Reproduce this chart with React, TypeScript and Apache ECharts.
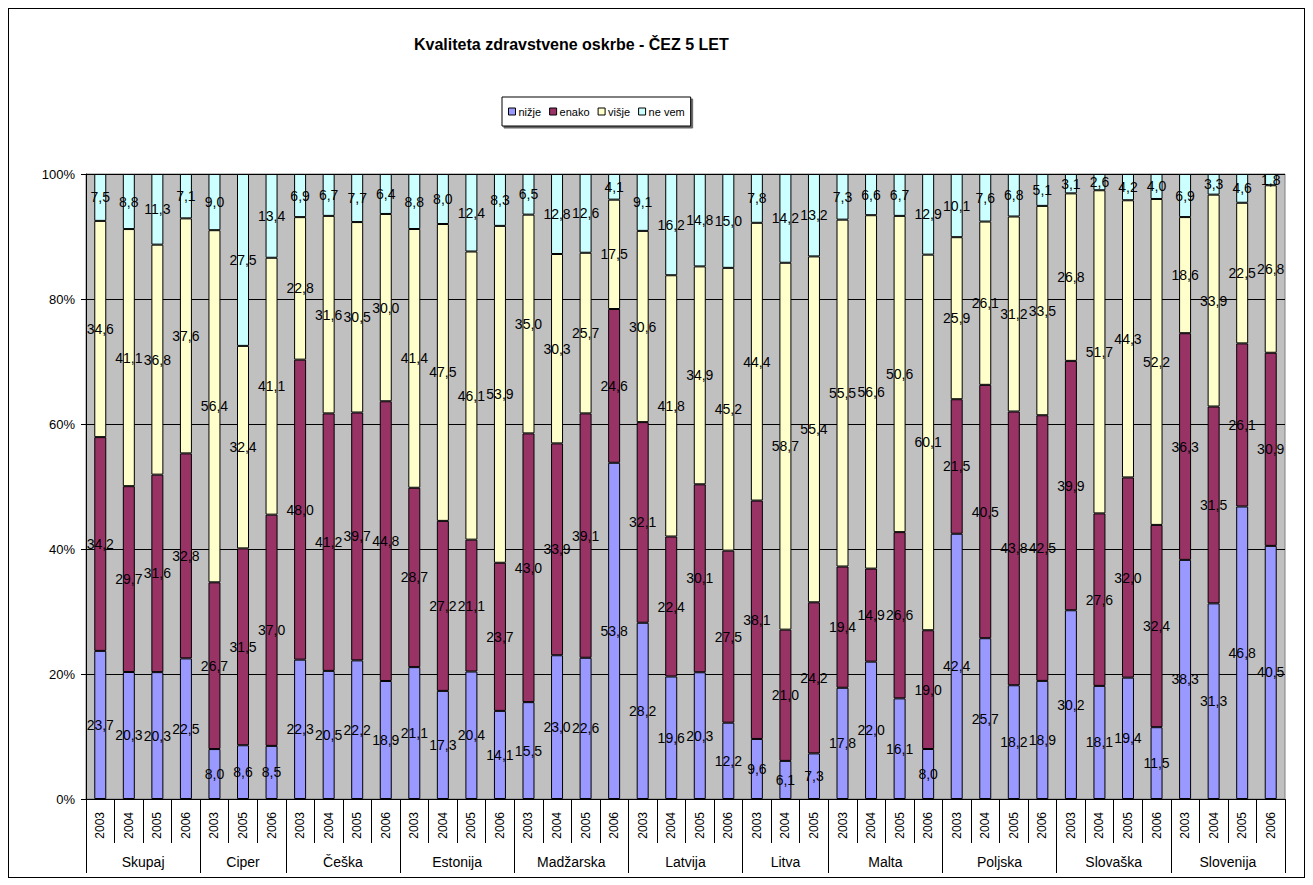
import React, { useEffect, useRef } from 'react';
import * as echarts from 'echarts';

const groupNames = ['Skupaj', 'Ciper', 'Češka', 'Estonija', 'Madžarska', 'Latvija', 'Litva', 'Malta', 'Poljska', 'Slovaška', 'Slovenija'];
const groupSizes = [4, 3, 4, 4, 4, 4, 3, 4, 4, 4, 4];
const years = [
  '2003', '2004', '2005', '2006',
  '2003', '2005', '2006',
  '2003', '2004', '2005', '2006',
  '2003', '2004', '2005', '2006',
  '2003', '2004', '2005', '2006',
  '2003', '2004', '2005', '2006',
  '2003', '2004', '2005',
  '2003', '2004', '2005', '2006',
  '2003', '2004', '2005', '2006',
  '2003', '2004', '2005', '2006',
  '2003', '2004', '2005', '2006',
];

const seriesNames = ['nižje', 'enako', 'višje', 'ne vem'];
const seriesColors = ['#9999FF', '#993366', '#FFFFCC', '#CCFFFF'];

const nizje = [
  23.7, 20.3, 20.3, 22.5,
  8.0, 8.6, 8.5,
  22.3, 20.5, 22.2, 18.9,
  21.1, 17.3, 20.4, 14.1,
  15.5, 23.0, 22.6, 53.8,
  28.2, 19.6, 20.3, 12.2,
  9.6, 6.1, 7.3,
  17.8, 22.0, 16.1, 8.0,
  42.4, 25.7, 18.2, 18.9,
  30.2, 18.1, 19.4, 11.5,
  38.3, 31.3, 46.8, 40.5,
];
const enako = [
  34.2, 29.7, 31.6, 32.8,
  26.7, 31.5, 37.0,
  48.0, 41.2, 39.7, 44.8,
  28.7, 27.2, 21.1, 23.7,
  43.0, 33.9, 39.1, 24.6,
  32.1, 22.4, 30.1, 27.5,
  38.1, 21.0, 24.2,
  19.4, 14.9, 26.6, 19.0,
  21.5, 40.5, 43.8, 42.5,
  39.9, 27.6, 32.0, 32.4,
  36.3, 31.5, 26.1, 30.9,
];
const visje = [
  34.6, 41.1, 36.8, 37.6,
  56.4, 32.4, 41.1,
  22.8, 31.6, 30.5, 30.0,
  41.4, 47.5, 46.1, 53.9,
  35.0, 30.3, 25.7, 17.5,
  30.6, 41.8, 34.9, 45.2,
  44.4, 58.7, 55.4,
  55.5, 56.6, 50.6, 60.1,
  25.9, 26.1, 31.2, 33.5,
  26.8, 51.7, 44.3, 52.2,
  18.6, 33.9, 22.5, 26.8,
];
const neVem = [
  7.5, 8.8, 11.3, 7.1,
  9.0, 27.5, 13.4,
  6.9, 6.7, 7.7, 6.4,
  8.8, 8.0, 12.4, 8.3,
  6.5, 12.8, 12.6, 4.1,
  9.1, 16.2, 14.8, 15.0,
  7.8, 14.2, 13.2,
  7.3, 6.6, 6.7, 12.9,
  10.1, 7.6, 6.8, 5.1,
  3.1, 2.6, 4.2, 4.0,
  6.9, 3.3, 4.6, 1.8,
];

const yTicks = [0, 20, 40, 60, 80, 100];

export default function App() {
  const ref = useRef<HTMLDivElement>(null);

  useEffect(() => {
    if (!ref.current) return;
    const chart = echarts.init(ref.current, undefined, { renderer: 'svg' });

    const seriesData = [nizje, enako, visje, neVem];
    const totals = years.map((_, i) => seriesData.reduce((s, arr) => s + arr[i], 0));

    // second (group) axis: points at every half-band
    const nPts = years.length * 2 + 1;
    const groupAxisData: string[] = new Array(nPts).fill('');
    const boundarySet = new Set<number>();
    let cum = 0;
    boundarySet.add(0);
    groupSizes.forEach((sz, g) => {
      groupAxisData[cum * 2 + sz] = groupNames[g];
      cum += sz;
      boundarySet.add(cum * 2);
    });

    const option: any = {
      animation: false,
      textStyle: { fontFamily: 'Arial, "Liberation Sans", sans-serif', color: '#000' },
      title: {
        text: 'Kvaliteta zdravstvene oskrbe - ČEZ 5 LET',
        left: 400,
        top: 22,
        textStyle: { fontSize: 16, fontWeight: 'bold', color: '#000', fontFamily: 'Arial, "Liberation Sans", sans-serif' },
      },
      legend: {
        data: seriesNames,
        left: 493,
        top: 88,
        orient: 'horizontal',
        icon: 'rect',
        itemWidth: 7,
        itemHeight: 7,
        itemGap: 8,
        padding: [9, 6],
        borderColor: '#000',
        borderWidth: 1,
        backgroundColor: '#fff',
        shadowColor: 'rgba(0,0,0,0.6)',
        shadowOffsetX: 2,
        shadowOffsetY: 2,
        shadowBlur: 0,
        itemStyle: { borderColor: '#000', borderWidth: 1 },
        textStyle: { fontSize: 11, color: '#000', padding: [0, 0, 0, -2] },
      },
      grid: {
        left: 77,
        right: 19,
        top: 165,
        bottom: 78,
        show: true,
        backgroundColor: '#C0C0C0',
        borderColor: '#808080',
        borderWidth: 1,
      },
      xAxis: [
        {
          type: 'category',
          data: years,
          position: 'bottom',
          axisLine: { show: true, lineStyle: { color: '#000', width: 1 } },
          axisTick: { show: true, length: 44, interval: 0, lineStyle: { color: '#000' } },
          axisLabel: { rotate: 90, interval: 0, fontSize: 12, margin: 13, color: '#000' },
          splitLine: { show: false },
        },
        {
          type: 'category',
          data: groupAxisData,
          boundaryGap: false,
          position: 'bottom',
          offset: 0,
          axisLine: { show: false },
          axisTick: {
            show: true,
            length: 74,
            interval: (idx: number) => boundarySet.has(idx),
            lineStyle: { color: '#000' },
          },
          axisLabel: {
            interval: (idx: number) => groupAxisData[idx] !== '',
            margin: 56,
            fontSize: 14,
            color: '#000',
          },
          splitLine: { show: false },
        },
      ],
      yAxis: {
        type: 'value',
        min: yTicks[0],
        max: yTicks[yTicks.length - 1],
        interval: 20,
        axisLine: { show: true, lineStyle: { color: '#000' } },
        axisTick: { show: true, length: 5, lineStyle: { color: '#000' } },
        axisLabel: { formatter: '{value}%', fontSize: 13, color: '#000', margin: 11 },
        splitLine: { show: true, lineStyle: { color: '#000', width: 1 } },
      },
      series: seriesData.map((arr, k) => ({
        name: seriesNames[k],
        type: 'bar',
        stack: 'all',
        xAxisIndex: 0,
        yAxisIndex: 0,
        barWidth: 12,
        data: arr.map((v, i) => (v / totals[i]) * 100),
        itemStyle: { color: seriesColors[k], borderColor: '#000', borderWidth: 1 },
        label: {
          show: true,
          position: 'inside',
          color: '#000',
          fontSize: 14,
          textBorderWidth: 0,
          formatter: (p: any) => arr[p.dataIndex].toFixed(1).replace('.', ','),
        },
      })),
    };

    chart.setOption(option);
    return () => chart.dispose();
  }, []);

  return (
    <div style={{ width: 1297, height: 870, border: '1px solid #000', boxSizing: 'border-box' }}>
      <div ref={ref} style={{ width: 1295, height: 868 }} />
    </div>
  );
}
